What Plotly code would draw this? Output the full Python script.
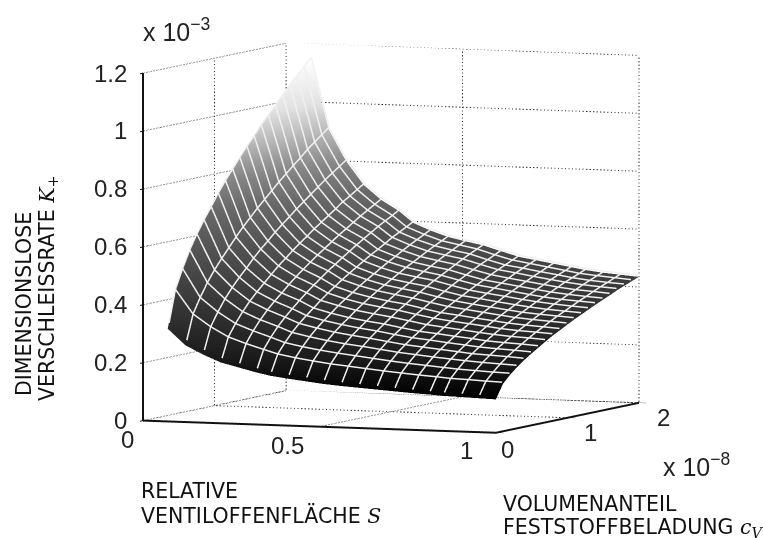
import plotly.graph_objects as go

S_VALUES = [0.07,0.12,0.17,0.22,0.27,0.32,0.36,0.41,0.46,0.51,0.56,0.61,0.66,0.71,0.76,0.81,0.85,0.90,0.95,1.00]
C_VALUES = [0.0,0.1,0.2,0.3,0.4,0.5,0.6,0.7,0.8,0.9,1.0,1.1,1.2,1.3,1.4,1.5,1.6,1.7,1.8,1.9,2.0]
# Wear rate (x 1e-3): one row per S value, one column per c value
K_VALUES = [
[.320,.446,.513,.572,.622,.666,.706,.748,.786,.821,.856,.889,.920,.953,.982,1.011,1.040,1.070,1.096,1.122,1.149],
[.265,.363,.415,.461,.500,.534,.566,.598,.628,.655,.682,.707,.732,.757,.780,.803,.825,.849,.869,.889,.910],
[.235,.321,.367,.407,.441,.471,.498,.527,.553,.576,.601,.623,.644,.666,.686,.706,.726,.746,.764,.782,.800],
[.210,.288,.329,.365,.396,.423,.448,.473,.497,.518,.540,.560,.579,.599,.617,.635,.653,.672,.687,.704,.720],
[.195,.267,.306,.339,.368,.393,.416,.440,.462,.482,.502,.521,.539,.557,.575,.591,.608,.625,.640,.655,.670],
[.180,.249,.286,.318,.345,.369,.392,.414,.435,.454,.474,.491,.509,.526,.543,.559,.575,.591,.605,.619,.634],
[.170,.235,.269,.299,.325,.347,.368,.389,.409,.427,.445,.462,.478,.494,.510,.524,.539,.555,.568,.581,.595],
[.162,.224,.257,.286,.311,.332,.352,.373,.391,.408,.426,.442,.457,.473,.488,.502,.517,.531,.544,.557,.570],
[.155,.215,.247,.275,.299,.320,.339,.359,.377,.394,.411,.426,.441,.456,.471,.484,.498,.512,.525,.537,.550],
[.148,.207,.239,.266,.290,.310,.329,.349,.367,.383,.400,.415,.430,.445,.459,.472,.486,.500,.512,.525,.537],
[.143,.201,.232,.259,.282,.302,.321,.340,.358,.374,.390,.405,.420,.435,.448,.462,.475,.489,.501,.513,.525],
[.139,.195,.225,.251,.273,.292,.310,.329,.346,.361,.377,.391,.405,.420,.433,.446,.459,.472,.483,.495,.507],
[.135,.189,.218,.243,.264,.283,.300,.318,.335,.349,.365,.379,.392,.406,.419,.431,.444,.456,.467,.479,.490],
[.131,.184,.212,.237,.258,.277,.294,.311,.327,.342,.357,.370,.384,.397,.410,.422,.434,.447,.458,.469,.480],
[.127,.179,.207,.231,.252,.270,.287,.304,.320,.334,.349,.362,.375,.389,.401,.413,.425,.437,.448,.459,.470],
[.124,.175,.202,.226,.246,.264,.281,.297,.313,.327,.341,.354,.367,.380,.392,.404,.416,.428,.439,.449,.460],
[.121,.171,.198,.222,.241,.259,.275,.292,.307,.321,.335,.348,.361,.374,.385,.397,.409,.421,.431,.441,.452],
[.119,.169,.195,.218,.238,.255,.271,.287,.302,.316,.330,.343,.355,.368,.379,.391,.402,.414,.424,.435,.445],
[.117,.166,.192,.215,.235,.252,.268,.284,.299,.312,.326,.339,.351,.363,.375,.386,.398,.409,.419,.430,.440],
[.115,.164,.190,.212,.231,.248,.264,.280,.295,.308,.322,.335,.347,.359,.371,.382,.393,.405,.415,.425,.435],
]
S_TICKS = [0, 0.5, 1]
S_LABELS = ["0", "0.5", "1"]
C_TICKS = [0, 1, 2]
C_LABELS = ["0", "1", "2"]
Z_TICKS = [0, 0.2, 0.4, 0.6, 0.8, 1.0, 1.2]
Z_LABELS = ["0", "0.2", "0.4", "0.6", "0.8", "1", "1.2"]
# Pixel offsets of the tick labels from their tick positions
S_LABEL_SHIFT = [(-16, -19), (-32, -19), (-29, -18)]
C_LABEL_SHIFT = [(12, -17), (23, -15), (25, -15)]

fig = go.Figure()

GRID = dict(color="#333333", width=2, dash="dot")
MESH = dict(color="#f0f0f0", width=3)
LIFT_X, LIFT_Y, LIFT_Z = 0.004, -0.012, 0.006

def grid(xs, ys, zs):
    fig.add_trace(go.Scatter3d(x=xs, y=ys, z=zs, mode="lines", line=GRID,
                               hoverinfo="skip", showlegend=False))

x0, x1 = S_TICKS[0], S_TICKS[-1]
y0, y1 = C_TICKS[0], C_TICKS[-1]
z0, z1 = Z_TICKS[0], Z_TICKS[-1]
for z in Z_TICKS:
    grid([x0, x0, x1], [y0, y1, y1], [z, z, z])
for s in S_TICKS:
    grid([s, s, s], [y0, y1, y1], [z0, z0, z1])
for c in C_TICKS:
    grid([x1, x0, x0], [c, c, c], [z0, z0, z1])

fig.add_trace(go.Surface(
    x=S_VALUES, y=C_VALUES, z=[list(col) for col in zip(*K_VALUES)],
    colorscale=[[0, "#000000"], [0.1, "#1a1a1a"], [0.3, "#3c3c3c"], [0.47, "#585858"],
                [0.56, "#696969"], [0.66, "#878787"], [0.76, "#b9b9b9"], [0.85, "#e1e1e1"], [1, "#ffffff"]],
    cmin=0.115, cmax=1.15,
    showscale=False, hoverinfo="skip",
    lighting=dict(ambient=1, diffuse=0, specular=0, roughness=1, fresnel=0),
))
for i, s in enumerate(S_VALUES):
    fig.add_trace(go.Scatter3d(x=[s + LIFT_X]*len(C_VALUES), y=[c + LIFT_Y for c in C_VALUES],
                               z=[k + LIFT_Z for k in K_VALUES[i]], mode="lines",
                               line=MESH, hoverinfo="skip", showlegend=False))
for j, c in enumerate(C_VALUES):
    fig.add_trace(go.Scatter3d(x=[s + LIFT_X for s in S_VALUES], y=[c + LIFT_Y]*len(S_VALUES),
                               z=[row[j] + LIFT_Z for row in K_VALUES],
                               mode="lines", line=MESH, hoverinfo="skip", showlegend=False))

def axis(rng, tv):
    return dict(range=rng, tickmode="array", tickvals=tv, title=dict(text=""),
                showticklabels=False,
                showgrid=False, zeroline=False, showbackground=False, showspikes=False,
                showline=True, linecolor="#111111", linewidth=4,
                ticks="outside", ticklen=8, tickcolor="#111111", tickwidth=2)

TEXT = dict(family="DejaVu Sans", size=20.5, color="#111111")
BIG = dict(family="Liberation Sans", size=25, color="#222222")
TICK = dict(family="Liberation Sans", size=24, color="#222222")
def note(x, y, text, font=TEXT, **kw):
    return dict(x=x/763, y=1-y/538, xref="paper", yref="paper", text=text, showarrow=False,
                font=font, align="left", xanchor="left", yanchor="middle", **kw)

scene_notes = []
for z, t in zip(Z_TICKS, Z_LABELS):
    scene_notes.append(dict(x=x0, y=y0, z=z, text=t, showarrow=False, font=TICK,
                            xanchor="right", yanchor="middle", xshift=-14))
for s, t, (dx, dy) in zip(S_TICKS, S_LABELS, S_LABEL_SHIFT):
    scene_notes.append(dict(x=s, y=y0, z=z0, text=t, showarrow=False, font=TICK,
                            xanchor="center", yanchor="middle", xshift=dx, yshift=dy))
for c, t, (dx, dy) in zip(C_TICKS, C_LABELS, C_LABEL_SHIFT):
    scene_notes.append(dict(x=x1, y=c, z=z0, text=t, showarrow=False, font=TICK,
                            xanchor="center", yanchor="middle", xshift=dx, yshift=dy))

MATH = '<span style="font-family:DejaVu Serif"><i>%s</i></span>'
fig.update_layout(
    width=763, height=538, margin=dict(l=0, r=0, t=0, b=0),
    paper_bgcolor="white", showlegend=False,
    scene=dict(
        domain=dict(x=[0.025, 1.0], y=[0.116, 1.0]),
        xaxis=axis([0, 1], S_TICKS),
        yaxis=axis([0, 2], C_TICKS),
        zaxis=axis([0, 1.2], Z_TICKS),
        aspectmode="manual", aspectratio=dict(x=1.6, y=1.6, z=1.465),
        camera=dict(projection=dict(type="orthographic"),
                    eye=dict(x=0.75, y=-1.85, z=0.17),
                    center=dict(x=0, y=0, z=0), up=dict(x=0, y=0, z=1)),
        annotations=scene_notes,
    ),
    annotations=[
        note(141, 30, "x 10<sup>−3</sup>", BIG),
        note(661, 465, "x 10<sup>−8</sup>", BIG),
        note(139, 491, "RELATIVE"),
        note(139, 515, "VENTILOFFENFLÄCHE " + MATH % "S"),
        note(501, 504, "VOLUMENANTEIL"),
        note(501, 528, "FESTSTOFFBELADUNG " + MATH % "c<sub>V</sub>"),
        dict(x=24/763, y=1-304/538, xref="paper", yref="paper", showarrow=False, textangle=-90,
             text="DIMENSIONSLOSE", font=TEXT, xanchor="center", yanchor="middle"),
        dict(x=48/763, y=1-288/538, xref="paper", yref="paper", showarrow=False, textangle=-90,
             text="VERSCHLEISSRATE " + MATH % "K<sub>+</sub>", font=TEXT, xanchor="center", yanchor="middle"),
    ],
)
fig.write_html("out.html", post_script="document.body.style.margin='0';",
               config=dict(displayModeBar=False))
